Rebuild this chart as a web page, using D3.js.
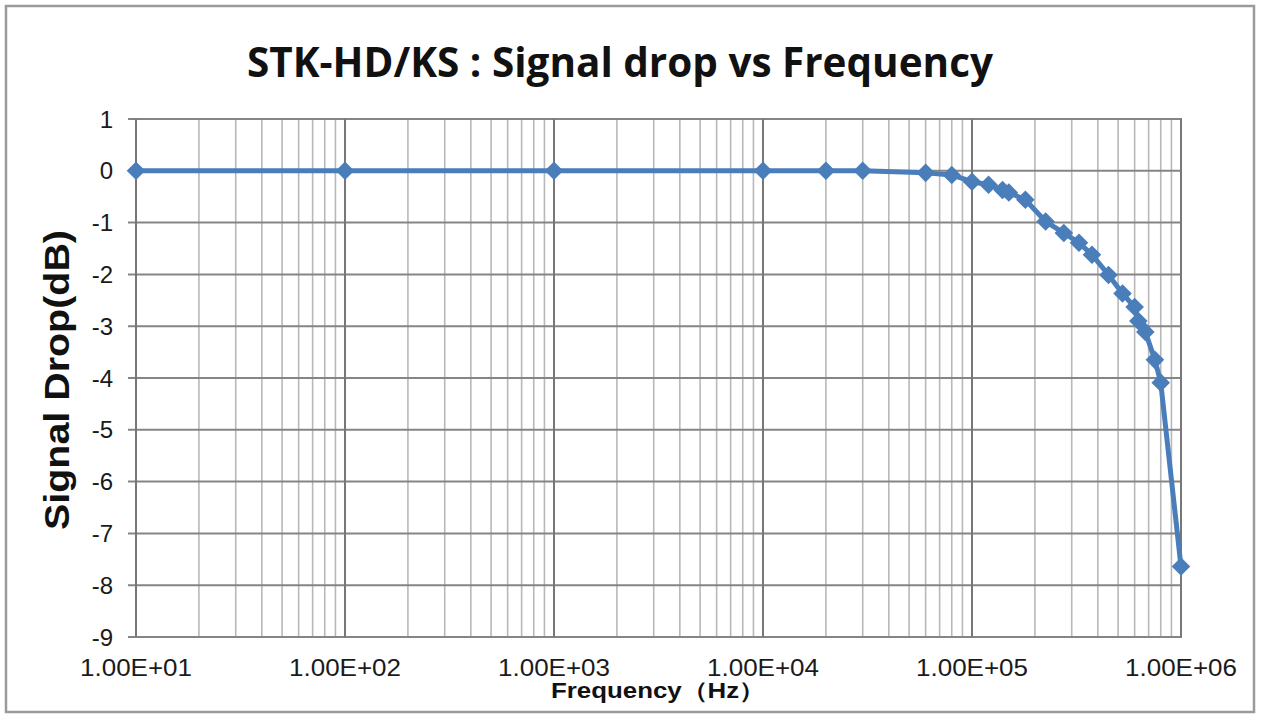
<!DOCTYPE html>
<html>
<head>
<meta charset="utf-8">
<script src="https://cdn.jsdelivr.net/npm/d3@7"></script>
<style>
  html, body { margin: 0; padding: 0; background: #fff; }
  svg { display: block; }
</style>
</head>
<body>
<script>
const freqs = [10, 100, 1000, 10000, 20000, 30000, 60000, 80000, 100000, 120000, 140000, 150000,
  180000, 225000, 275000, 325000, 375000, 450000, 525000, 600000, 625000, 675000, 750000, 800000, 1000000];
const drops = [0, 0, 0, 0, 0, 0, -0.04, -0.08, -0.21, -0.27, -0.37, -0.42,
  -0.56, -0.98, -1.2, -1.39, -1.62, -2.01, -2.37, -2.63, -2.9, -3.11, -3.65, -4.09, -7.64];

const xTicks = [10, 100, 1000, 10000, 100000, 1000000];
const xTickLabels = ['1.00E+01', '1.00E+02', '1.00E+03', '1.00E+04', '1.00E+05', '1.00E+06'];
const yTicks = [1, 0, -1, -2, -3, -4, -5, -6, -7, -8, -9];

const title = 'STK-HD/KS : Signal drop vs Frequency';
const xTitle = 'Frequency（Hz）';
const yTitle = 'Signal Drop(dB)';

const W = 1261, H = 715;
const lineColor = '#4a7ebb';
const sans = 'Liberation Sans, Arial, sans-serif';

const svg = d3.select('body').append('svg')
  .attr('width', W)
  .attr('height', H);

// chart frame
svg.append('rect')
  .attr('x', 6).attr('y', 6)
  .attr('width', 1248).attr('height', 706)
  .attr('fill', '#fff')
  .attr('stroke', '#9a9a9a')
  .attr('stroke-width', 2.5);

const x = d3.scaleLog().domain([10, 1e6]).range([136, 1181]);
const y = d3.scaleLinear().domain([-9, 1]).range([637, 119]);

const grid = svg.append('g');

// minor log gridlines
const minor = [];
for (let e = 1; e < 6; e++) {
  for (let k = 2; k <= 9; k++) minor.push(k * 10 ** e);
}
grid.selectAll('line.minor')
  .data(minor)
  .join('line')
  .attr('class', 'minor')
  .attr('x1', d => x(d)).attr('x2', d => x(d))
  .attr('y1', y(1)).attr('y2', y(-9))
  .attr('stroke', '#b8b8b8')
  .attr('stroke-width', 1.6);

// horizontal gridlines, with a small tick out to the left
grid.selectAll('line.h')
  .data(yTicks)
  .join('line')
  .attr('class', 'h')
  .attr('x1', x(10) - 8).attr('x2', x(1e6) + 1)
  .attr('y1', d => y(d)).attr('y2', d => y(d))
  .attr('stroke', '#858585')
  .attr('stroke-width', 2);

// major decade gridlines
grid.selectAll('line.major')
  .data(xTicks)
  .join('line')
  .attr('class', 'major')
  .attr('x1', d => x(d)).attr('x2', d => x(d))
  .attr('y1', y(1)).attr('y2', y(-9))
  .attr('stroke', '#777')
  .attr('stroke-width', 2);

// y tick labels
svg.append('g').selectAll('text')
  .data(yTicks)
  .join('text')
  .attr('x', 113)
  .attr('y', d => y(d))
  .attr('dy', '0.36em')
  .attr('text-anchor', 'end')
  .attr('font-family', sans)
  .attr('font-size', 24)
  .attr('fill', '#1a1a1a')
  .text(d => d);

// x tick labels
svg.append('g').selectAll('text')
  .data(xTicks)
  .join('text')
  .attr('x', d => x(d))
  .attr('y', 676)
  .attr('text-anchor', 'middle')
  .attr('font-family', sans)
  .attr('font-size', 24)
  .attr('textLength', 112)
  .attr('lengthAdjust', 'spacingAndGlyphs')
  .attr('fill', '#1a1a1a')
  .text((d, i) => xTickLabels[i]);

// series
const pts = freqs.map((f, i) => [f, drops[i]]);
svg.append('path')
  .datum(pts)
  .attr('fill', 'none')
  .attr('stroke', lineColor)
  .attr('stroke-width', 5)
  .attr('stroke-linejoin', 'round')
  .attr('d', d3.line().x(d => x(d[0])).y(d => y(d[1])));

svg.append('g').selectAll('path')
  .data(pts)
  .join('path')
  .attr('transform', d => `translate(${x(d[0])},${y(d[1])})`)
  .attr('d', d3.symbol(d3.symbolDiamond2, 220))
  .attr('fill', lineColor);

// titles
svg.append('text')
  .attr('x', 620).attr('y', 77)
  .attr('text-anchor', 'middle')
  .attr('font-family', 'Liberation Sans Narrow, Open Sans, sans-serif')
  .attr('font-weight', 'bold')
  .attr('font-size', 42)
  .attr('textLength', 746)
  .attr('lengthAdjust', 'spacingAndGlyphs')
  .attr('fill', '#111')
  .text(title);

svg.append('text')
  .attr('transform', 'translate(69,380) rotate(-90)')
  .attr('text-anchor', 'middle')
  .attr('font-family', sans)
  .attr('font-weight', 'bold')
  .attr('font-size', 35)
  .attr('textLength', 300)
  .attr('lengthAdjust', 'spacingAndGlyphs')
  .attr('fill', '#111')
  .text(yTitle);

svg.append('text')
  .attr('x', 658).attr('y', 698)
  .attr('text-anchor', 'middle')
  .attr('font-family', sans)
  .attr('font-weight', 'bold')
  .attr('font-size', 22)
  .attr('textLength', 214)
  .attr('lengthAdjust', 'spacingAndGlyphs')
  .attr('fill', '#111')
  .text(xTitle);
</script>
</body>
</html>
